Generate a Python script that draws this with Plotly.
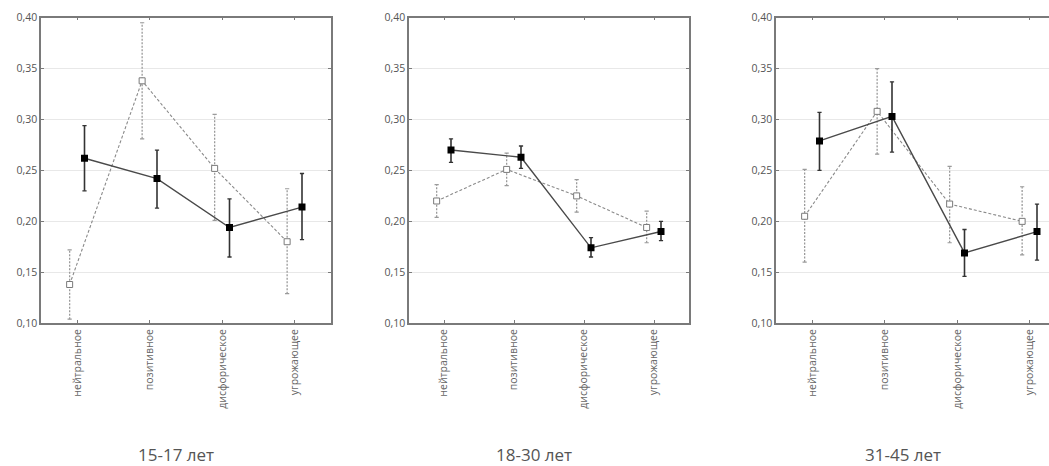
import plotly.graph_objects as go

categories = ["нейтральное", "позитивное", "дисфорическое", "угрожающее"]
panel_titles = ["15-17 лет", "18-30 лет", "31-45 лет"]

# filled squares, solid line
solid_mean = [
    [0.262, 0.242, 0.194, 0.214],
    [0.270, 0.263, 0.174, 0.190],
    [0.279, 0.303, 0.169, 0.190],
]
solid_hi = [
    [0.294, 0.270, 0.222, 0.247],
    [0.281, 0.274, 0.184, 0.200],
    [0.307, 0.337, 0.192, 0.217],
]
solid_lo = [
    [0.230, 0.213, 0.165, 0.182],
    [0.258, 0.252, 0.165, 0.181],
    [0.250, 0.268, 0.146, 0.162],
]
# open squares, dashed line
open_mean = [
    [0.138, 0.338, 0.252, 0.180],
    [0.220, 0.251, 0.225, 0.194],
    [0.205, 0.308, 0.217, 0.200],
]
open_hi = [
    [0.172, 0.395, 0.305, 0.232],
    [0.236, 0.267, 0.241, 0.210],
    [0.251, 0.350, 0.254, 0.234],
]
open_lo = [
    [0.104, 0.281, 0.201, 0.129],
    [0.204, 0.235, 0.209, 0.179],
    [0.160, 0.266, 0.179, 0.167],
]

W, H = 1049, 466
left_px = [41, 409, 776]
right_px = [331, 689, 1049]
x_ranges = [[-0.5, 3.5], [-0.5, 3.5], [-0.5, -0.5 + (1049 - 776) / 72.5]]
title_x_px = [176, 534, 903]
top_px, bot_px = 11, 326

OFF_OPEN, OFF_SOLID = -0.105, 0.1
FONT = "Open Sans"

fig = go.Figure()


def seg_xy(xs, lo, hi):
    X, Y = [], []
    for x, l, h in zip(xs, lo, hi):
        X += [x, x, None]
        Y += [l, h, None]
    return X, Y


for p in range(3):
    xa = "x" if p == 0 else f"x{p+1}"
    ya = "y" if p == 0 else f"y{p+1}"
    xo = [i + OFF_OPEN for i in range(len(categories))]
    xs = [i + OFF_SOLID for i in range(len(categories))]

    # open series error bars (dotted)
    ex, ey = seg_xy(xo, open_lo[p], open_hi[p])
    fig.add_trace(go.Scatter(x=ex, y=ey, mode="lines", xaxis=xa, yaxis=ya,
                             line=dict(color="#9a9a9a", width=1.3, dash="2px,1.5px"),
                             showlegend=False, hoverinfo="skip"))
    fig.add_trace(go.Scatter(x=xo + xo, y=open_lo[p] + open_hi[p], mode="markers",
                             xaxis=xa, yaxis=ya,
                             marker=dict(symbol="line-ew", size=3, line=dict(color="#9a9a9a", width=1.2)),
                             showlegend=False, hoverinfo="skip"))
    fig.add_trace(go.Scatter(x=xo, y=open_mean[p], mode="lines+markers", xaxis=xa, yaxis=ya,
                             line=dict(color="#8a8a8a", width=1.1, dash="3px,2px"),
                             marker=dict(symbol="square", size=6, color="white",
                                         line=dict(color="#7a7a7a", width=1)),
                             showlegend=False))

    # solid series error bars
    ex, ey = seg_xy(xs, solid_lo[p], solid_hi[p])
    fig.add_trace(go.Scatter(x=ex, y=ey, mode="lines", xaxis=xa, yaxis=ya,
                             line=dict(color="#333333", width=1.6),
                             showlegend=False, hoverinfo="skip"))
    fig.add_trace(go.Scatter(x=xs + xs, y=solid_lo[p] + solid_hi[p], mode="markers",
                             xaxis=xa, yaxis=ya,
                             marker=dict(symbol="line-ew", size=3, line=dict(color="#333333", width=1.3)),
                             showlegend=False, hoverinfo="skip"))
    fig.add_trace(go.Scatter(x=xs, y=solid_mean[p], mode="lines+markers", xaxis=xa, yaxis=ya,
                             line=dict(color="#4a4a4a", width=1.4),
                             marker=dict(symbol="square", size=7, color="black",
                                         line=dict(color="black", width=0)),
                             showlegend=False))

    xkey = "xaxis" if p == 0 else f"xaxis{p+1}"
    ykey = "yaxis" if p == 0 else f"yaxis{p+1}"
    fig.update_layout(**{
        xkey: dict(domain=[left_px[p] / W, right_px[p] / W], range=x_ranges[p],
                   anchor=ya, tickmode="array", tickvals=list(range(len(categories))),
                   ticktext=categories, tickangle=-90, showgrid=False, zeroline=False,
                   showline=True, linecolor="#7a7a7a", linewidth=1.5, mirror="ticks",
                   ticks="inside", ticklen=3, tickcolor="#7a7a7a",
                   tickfont=dict(family=FONT, size=10.5, color="#666666")),
        ykey: dict(domain=[1 - bot_px / H, 1 - top_px / H], range=[0.10, 0.40],
                   anchor=xa, tickmode="array",
                   tickvals=[0.10, 0.15, 0.20, 0.25, 0.30, 0.35, 0.40],
                   tickformat=".2f", showgrid=True, gridcolor="#e8e8e8", gridwidth=1,
                   zeroline=False, showline=True, linecolor="#7a7a7a", linewidth=1.5,
                   mirror=("ticks" if p < 2 else False),
                   ticks="inside", ticklen=3, tickcolor="#7a7a7a",
                   tickfont=dict(family=FONT, size=10.5, color="#555555")),
    })
    fig.add_annotation(text=panel_titles[p], xref="paper", yref="paper",
                       x=title_x_px[p] / W, y=1 - 461 / H, xanchor="center", yanchor="middle",
                       showarrow=False, font=dict(family=FONT, size=17, color="#555555"))

fig.update_layout(
    width=W, height=H, margin=dict(l=0, r=0, t=0, b=0),
    paper_bgcolor="white", plot_bgcolor="white", separators=", ",
    showlegend=False,
)
fig.write_html("out.html", config={"displayModeBar": False},
               post_script="document.body.style.margin='0';document.body.style.overflow='hidden';")
